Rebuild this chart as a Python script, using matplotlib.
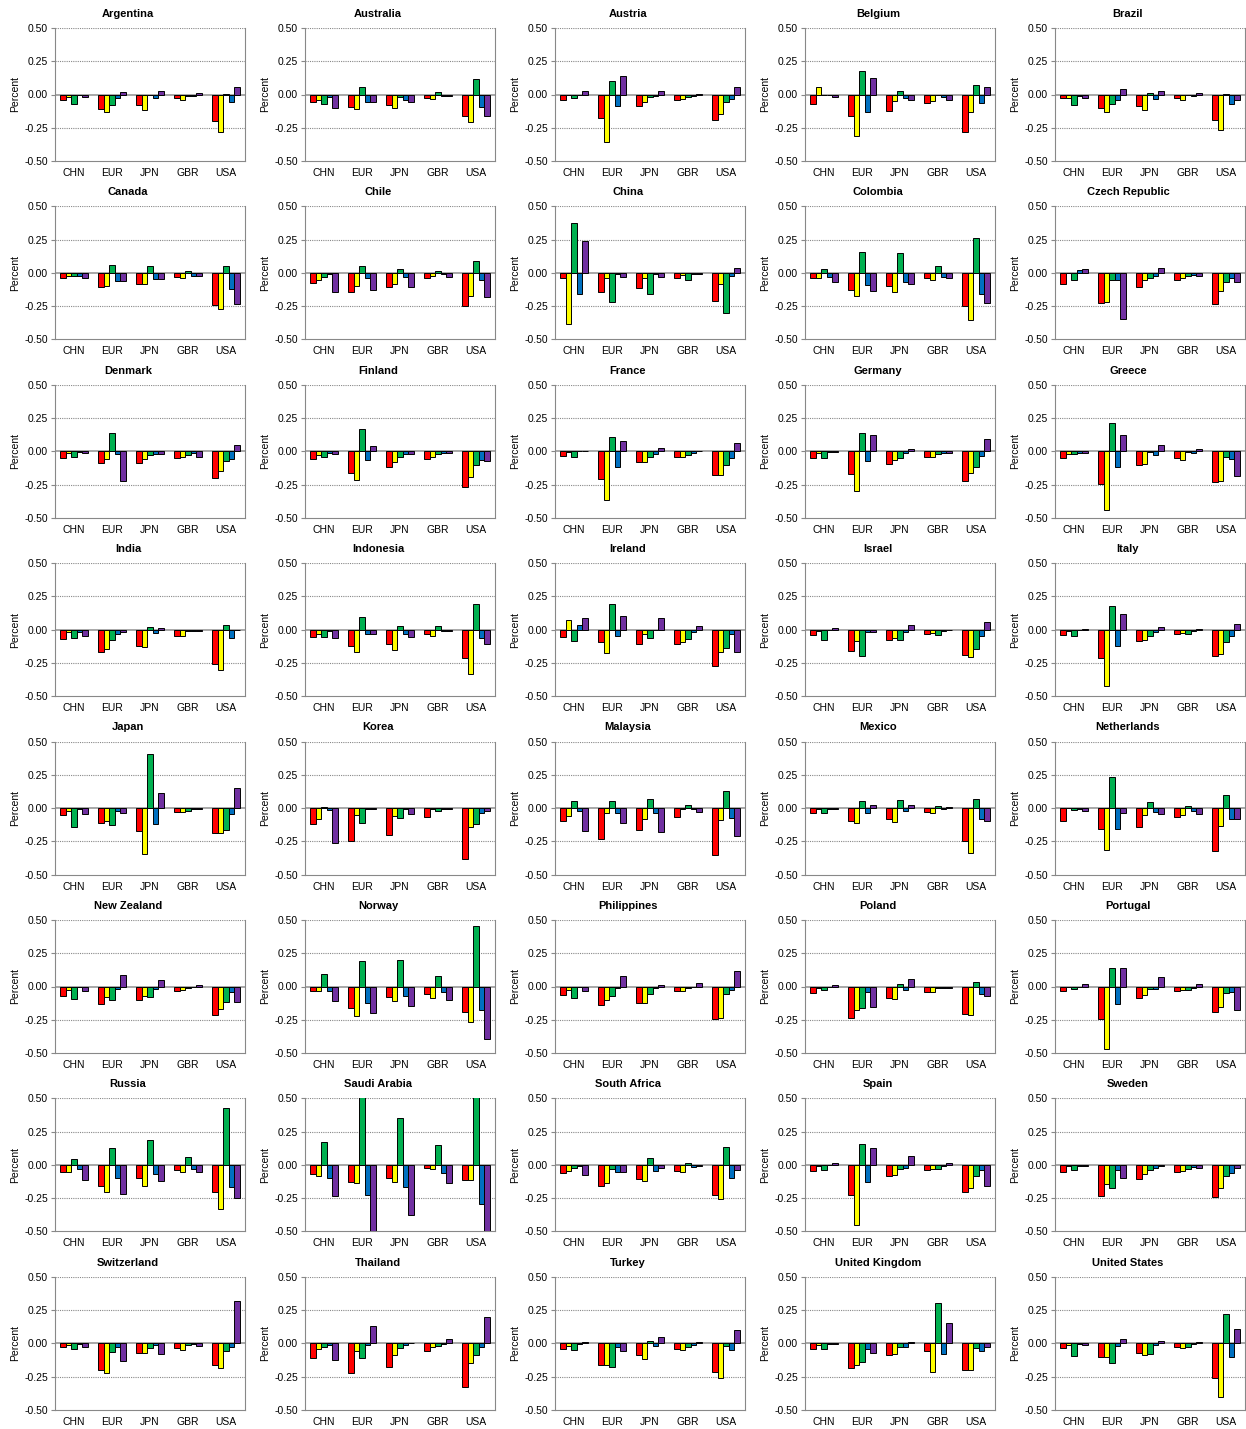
import numpy as np
import matplotlib.pyplot as plt

plt.rcParams['font.family'] = ['Liberation Sans', 'DejaVu Sans']
plt.rcParams['axes.unicode_minus'] = False

countries = ["Argentina", "Australia", "Austria", "Belgium", "Brazil",
             "Canada", "Chile", "China", "Colombia", "Czech Republic",
             "Denmark", "Finland", "France", "Germany", "Greece",
             "India", "Indonesia", "Ireland", "Israel", "Italy",
             "Japan", "Korea", "Malaysia", "Mexico", "Netherlands",
             "New Zealand", "Norway", "Philippines", "Poland", "Portugal",
             "Russia", "Saudi Arabia", "South Africa", "Spain", "Sweden",
             "Switzerland", "Thailand", "Turkey", "United Kingdom", "United States"]
groups = ["CHN", "EUR", "JPN", "GBR", "USA"]
bar_colors = ["#FF0000", "#FFFF00", "#00B050", "#0070C0", "#7030A0"]

# one row per country, five bars (red, yellow, green, blue, purple) per group
chn = [
    [-0.04, -0.02, -0.07, -0.005, -0.02],
    [-0.055, -0.045, -0.075, -0.02, -0.10],
    [-0.04, -0.005, -0.03, 0.0, 0.025],
    [-0.07, 0.06, -0.005, -0.005, -0.02],
    [-0.03, -0.03, -0.08, -0.01, -0.03],
    [-0.04, -0.02, -0.02, -0.02, -0.035],
    [-0.075, -0.055, -0.03, -0.01, -0.145],
    [-0.035, -0.385, 0.375, -0.155, 0.24],
    [-0.04, -0.04, 0.03, -0.03, -0.065],
    [-0.08, 0.0, -0.05, 0.02, 0.03],
    [-0.05, -0.01, -0.04, -0.005, -0.01],
    [-0.06, -0.025, -0.045, -0.01, -0.02],
    [-0.035, -0.005, -0.04, 0.0, 0.005],
    [-0.05, -0.015, -0.05, -0.005, -0.005],
    [-0.05, -0.02, -0.02, -0.01, -0.01],
    [-0.07, -0.02, -0.065, -0.015, -0.045],
    [-0.055, -0.035, -0.055, -0.01, -0.06],
    [-0.055, 0.075, -0.085, 0.035, 0.085],
    [-0.04, -0.01, -0.075, 0.0, 0.015],
    [-0.04, -0.01, -0.05, -0.005, 0.005],
    [-0.055, -0.025, -0.145, -0.005, -0.045],
    [-0.12, -0.085, 0.01, -0.015, -0.26],
    [-0.10, -0.06, 0.05, -0.02, -0.175],
    [-0.04, -0.01, -0.035, -0.005, -0.005],
    [-0.10, 0.0, -0.015, -0.005, -0.02],
    [-0.07, -0.025, -0.095, -0.005, -0.035],
    [-0.035, -0.035, 0.095, -0.035, -0.11],
    [-0.065, -0.03, -0.09, -0.005, -0.035],
    [-0.05, -0.01, -0.025, -0.005, 0.01],
    [-0.035, -0.005, -0.02, -0.005, 0.02],
    [-0.055, -0.05, 0.045, -0.03, -0.11],
    [-0.07, -0.08, 0.17, -0.10, -0.235],
    [-0.06, -0.045, -0.025, -0.01, -0.075],
    [-0.045, -0.01, -0.035, 0.0, 0.015],
    [-0.055, -0.01, -0.04, -0.005, -0.01],
    [-0.03, -0.01, -0.045, -0.005, -0.025],
    [-0.11, -0.04, -0.025, -0.01, -0.125],
    [-0.045, -0.02, -0.05, -0.005, 0.01],
    [-0.04, -0.01, -0.04, -0.005, -0.005],
    [-0.035, -0.015, -0.095, -0.005, -0.015],
]
eur = [
    [-0.11, -0.13, -0.08, -0.03, 0.02],
    [-0.095, -0.11, 0.055, -0.055, -0.055],
    [-0.18, -0.355, 0.10, -0.09, 0.14],
    [-0.165, -0.31, 0.18, -0.13, 0.125],
    [-0.10, -0.135, -0.075, -0.04, 0.04],
    [-0.105, -0.095, 0.06, -0.06, -0.06],
    [-0.145, -0.10, 0.05, -0.04, -0.125],
    [-0.14, -0.035, -0.22, -0.01, -0.03],
    [-0.125, -0.17, 0.155, -0.09, -0.135],
    [-0.23, -0.22, -0.055, -0.055, -0.35],
    [-0.09, -0.06, 0.14, -0.02, -0.22],
    [-0.165, -0.215, 0.165, -0.065, 0.04],
    [-0.205, -0.365, 0.11, -0.115, 0.075],
    [-0.17, -0.295, 0.14, -0.075, 0.125],
    [-0.245, -0.445, 0.215, -0.12, 0.12],
    [-0.17, -0.145, -0.075, -0.03, -0.015],
    [-0.125, -0.17, 0.095, -0.035, -0.035],
    [-0.09, -0.175, 0.19, -0.05, 0.10],
    [-0.16, -0.085, -0.20, -0.015, -0.015],
    [-0.215, -0.42, 0.175, -0.12, 0.12],
    [-0.11, -0.095, -0.125, -0.02, -0.04],
    [-0.25, -0.055, -0.11, -0.01, -0.005],
    [-0.235, -0.035, 0.055, -0.04, -0.11],
    [-0.10, -0.115, 0.05, -0.035, 0.025],
    [-0.155, -0.315, 0.235, -0.155, -0.035],
    [-0.135, -0.08, -0.105, -0.02, 0.085],
    [-0.165, -0.22, 0.195, -0.125, -0.20],
    [-0.14, -0.10, -0.075, -0.01, 0.08],
    [-0.235, -0.18, -0.16, -0.04, -0.155],
    [-0.245, -0.47, 0.14, -0.13, 0.14],
    [-0.155, -0.205, 0.125, -0.10, -0.22],
    [-0.13, -0.135, 0.60, -0.225, -0.60],
    [-0.155, -0.135, -0.03, -0.05, -0.05],
    [-0.225, -0.45, 0.16, -0.125, 0.13],
    [-0.235, -0.14, -0.17, -0.04, -0.095],
    [-0.20, -0.22, -0.065, -0.03, -0.135],
    [-0.225, -0.055, -0.11, -0.01, 0.13],
    [-0.16, -0.16, -0.18, -0.03, -0.055],
    [-0.185, -0.165, -0.14, -0.04, -0.075],
    [-0.10, -0.10, -0.145, -0.02, 0.03],
]
jpn = [
    [-0.08, -0.115, -0.005, -0.025, 0.025],
    [-0.08, -0.105, -0.02, -0.045, -0.06],
    [-0.085, -0.06, -0.02, -0.015, 0.03],
    [-0.125, -0.05, 0.03, -0.03, -0.045],
    [-0.085, -0.12, 0.01, -0.035, 0.03],
    [-0.08, -0.085, 0.055, -0.045, -0.045],
    [-0.105, -0.08, 0.03, -0.03, -0.105],
    [-0.115, -0.035, -0.16, -0.01, -0.03],
    [-0.10, -0.14, 0.15, -0.07, -0.08],
    [-0.105, -0.055, -0.035, -0.02, 0.035],
    [-0.085, -0.06, -0.03, -0.02, -0.02],
    [-0.115, -0.08, -0.04, -0.02, -0.02],
    [-0.08, -0.08, -0.04, -0.02, 0.025],
    [-0.095, -0.065, -0.05, -0.015, 0.02],
    [-0.10, -0.095, -0.005, -0.025, 0.045],
    [-0.12, -0.13, 0.02, -0.025, 0.015],
    [-0.11, -0.155, 0.025, -0.03, -0.055],
    [-0.105, -0.035, -0.06, -0.005, 0.09],
    [-0.08, -0.065, -0.075, -0.015, 0.035],
    [-0.085, -0.08, -0.045, -0.02, 0.02],
    [-0.175, -0.345, 0.41, -0.12, 0.11],
    [-0.20, -0.06, -0.075, -0.01, -0.045],
    [-0.165, -0.08, 0.07, -0.035, -0.18],
    [-0.08, -0.105, 0.06, -0.025, 0.02],
    [-0.14, -0.055, 0.045, -0.03, -0.045],
    [-0.10, -0.075, -0.08, -0.02, 0.05],
    [-0.08, -0.11, 0.20, -0.075, -0.145],
    [-0.125, -0.125, -0.055, -0.015, 0.015],
    [-0.09, -0.095, 0.02, -0.03, 0.055],
    [-0.085, -0.065, -0.02, -0.02, 0.075],
    [-0.095, -0.155, 0.185, -0.07, -0.12],
    [-0.095, -0.125, 0.35, -0.165, -0.375],
    [-0.105, -0.12, 0.05, -0.045, -0.025],
    [-0.085, -0.075, -0.03, -0.02, 0.065],
    [-0.105, -0.07, -0.04, -0.02, -0.01],
    [-0.07, -0.07, -0.035, -0.01, -0.08],
    [-0.18, -0.09, -0.035, -0.015, 0.005],
    [-0.09, -0.115, 0.015, -0.02, 0.05],
    [-0.085, -0.08, -0.025, -0.025, 0.01],
    [-0.075, -0.085, -0.08, -0.01, 0.02],
]
gbr = [
    [-0.03, -0.04, -0.01, -0.01, 0.01],
    [-0.03, -0.035, 0.02, -0.015, -0.015],
    [-0.04, -0.035, -0.02, -0.01, 0.005],
    [-0.065, -0.05, 0.0, -0.02, -0.045],
    [-0.03, -0.04, -0.005, -0.01, 0.015],
    [-0.03, -0.035, 0.015, -0.02, -0.025],
    [-0.04, -0.025, 0.015, -0.01, -0.03],
    [-0.035, -0.015, -0.055, -0.01, -0.01],
    [-0.04, -0.055, 0.05, -0.03, -0.035],
    [-0.05, -0.04, -0.025, -0.015, -0.025],
    [-0.05, -0.045, -0.025, -0.015, -0.04],
    [-0.055, -0.045, -0.02, -0.01, -0.015],
    [-0.04, -0.045, -0.03, -0.01, 0.005],
    [-0.045, -0.045, -0.02, -0.01, -0.01],
    [-0.05, -0.065, -0.005, -0.015, 0.015],
    [-0.045, -0.045, -0.01, -0.01, -0.01],
    [-0.035, -0.05, 0.03, -0.01, -0.01],
    [-0.11, -0.095, -0.07, -0.015, 0.03],
    [-0.035, -0.025, -0.04, -0.01, -0.005],
    [-0.035, -0.025, -0.03, -0.01, 0.005],
    [-0.03, -0.03, -0.02, -0.01, -0.01],
    [-0.065, -0.01, -0.02, -0.005, -0.005],
    [-0.065, -0.01, 0.02, -0.01, -0.03],
    [-0.03, -0.035, 0.015, -0.005, 0.005],
    [-0.065, -0.05, 0.015, -0.025, -0.045],
    [-0.035, -0.03, -0.015, -0.005, 0.015],
    [-0.055, -0.09, 0.08, -0.045, -0.105],
    [-0.035, -0.035, -0.015, -0.005, 0.025],
    [-0.045, -0.045, -0.015, -0.01, -0.01],
    [-0.035, -0.03, -0.025, -0.01, 0.02],
    [-0.04, -0.055, 0.06, -0.03, -0.05],
    [-0.025, -0.03, 0.15, -0.06, -0.135],
    [-0.045, -0.05, 0.015, -0.015, -0.01],
    [-0.04, -0.03, -0.03, -0.01, 0.015],
    [-0.055, -0.045, -0.03, -0.015, -0.025],
    [-0.035, -0.05, -0.01, -0.005, -0.02],
    [-0.055, -0.025, -0.02, -0.005, 0.035],
    [-0.04, -0.05, -0.025, -0.01, 0.01],
    [-0.06, -0.215, 0.30, -0.08, 0.155],
    [-0.03, -0.035, -0.03, -0.005, 0.01],
]
usa = [
    [-0.20, -0.28, 0.005, -0.06, 0.06],
    [-0.16, -0.21, 0.12, -0.095, -0.165],
    [-0.19, -0.15, -0.055, -0.035, 0.06],
    [-0.285, -0.13, 0.07, -0.065, 0.06],
    [-0.19, -0.265, 0.005, -0.075, -0.045],
    [-0.245, -0.27, 0.05, -0.12, -0.235],
    [-0.25, -0.17, 0.09, -0.055, -0.18],
    [-0.215, -0.085, -0.30, -0.02, 0.04],
    [-0.25, -0.355, 0.265, -0.155, -0.225],
    [-0.235, -0.135, -0.07, -0.04, -0.065],
    [-0.20, -0.15, -0.07, -0.06, 0.05],
    [-0.265, -0.19, -0.10, -0.065, -0.07],
    [-0.18, -0.175, -0.105, -0.05, 0.06],
    [-0.22, -0.16, -0.115, -0.035, 0.09],
    [-0.23, -0.225, -0.04, -0.06, -0.185],
    [-0.26, -0.30, 0.035, -0.065, -0.005],
    [-0.215, -0.33, 0.19, -0.06, -0.105],
    [-0.27, -0.17, -0.14, -0.03, -0.17],
    [-0.19, -0.205, -0.145, -0.045, 0.055],
    [-0.195, -0.185, -0.095, -0.045, 0.045],
    [-0.19, -0.19, -0.165, -0.045, 0.15],
    [-0.385, -0.14, -0.12, -0.035, -0.02],
    [-0.355, -0.09, 0.13, -0.075, -0.21],
    [-0.245, -0.34, 0.07, -0.08, -0.10],
    [-0.32, -0.135, 0.10, -0.085, -0.085],
    [-0.215, -0.17, -0.12, -0.045, -0.12],
    [-0.19, -0.265, 0.455, -0.18, -0.395],
    [-0.245, -0.235, -0.055, -0.025, 0.12],
    [-0.21, -0.215, 0.035, -0.06, -0.07],
    [-0.19, -0.155, -0.05, -0.045, -0.18],
    [-0.205, -0.335, 0.425, -0.165, -0.25],
    [-0.11, -0.115, 0.62, -0.295, -0.58],
    [-0.225, -0.26, 0.135, -0.10, -0.04],
    [-0.20, -0.17, -0.08, -0.04, -0.155],
    [-0.24, -0.17, -0.085, -0.06, -0.025],
    [-0.16, -0.185, -0.06, -0.03, 0.315],
    [-0.33, -0.145, -0.09, -0.03, 0.195],
    [-0.215, -0.26, -0.02, -0.05, 0.10],
    [-0.20, -0.20, -0.035, -0.055, -0.03],
    [-0.26, -0.405, 0.22, -0.10, 0.11],
]

data = np.array([chn, eur, jpn, gbr, usa])  # group, country, bar

W, H = 1246, 1429
fig = plt.figure(figsize=(W / 100, H / 100), dpi=100)

x = np.arange(len(groups))
bw = 0.147
for k, name in enumerate(countries):
    r, c = divmod(k, 5)
    left = 55 + 250 * c
    top = 28 + 178.4 * r
    ax = fig.add_axes([left / W, 1 - (top + 133) / H, 190 / W, 133 / H])
    for j in range(5):
        ax.bar(x + (j - 2) * bw, data[:, k, j], bw, color=bar_colors[j],
               edgecolor='black', linewidth=0.7, zorder=3)
    ax.set_xlim(-0.5, 4.5)
    ax.set_ylim(-0.5, 0.5)
    ax.set_yticks([-0.5, -0.25, 0, 0.25, 0.5])
    ax.set_yticklabels(['%.2f' % v for v in [-0.5, -0.25, 0, 0.25, 0.5]], fontsize=7.5)
    ax.set_xticks(x)
    ax.set_xticklabels(groups, fontsize=7.5)
    ax.tick_params(axis='x', length=0, pad=5)
    ax.tick_params(axis='y', length=3, color='#888888', pad=2)
    for yv in [0.25, -0.25, 0.5]:
        ax.axhline(yv, color='#888888', linestyle=(0, (1, 1)), linewidth=0.8, zorder=1)
    ax.axhline(0, color='#999999', linewidth=1.2, zorder=2)
    for s in ['left', 'right', 'bottom']:
        ax.spines[s].set_color('#888888')
        ax.spines[s].set_linewidth(0.8)
    ax.spines['top'].set_visible(False)
    ax.set_ylabel('Percent', fontsize=7.5, labelpad=3)
    # titles sit centred over the whole panel, y label included
    ax.set_title(name, fontsize=8, fontweight='bold', pad=8, x=0.384)

fig.savefig('out.png', dpi=100)
